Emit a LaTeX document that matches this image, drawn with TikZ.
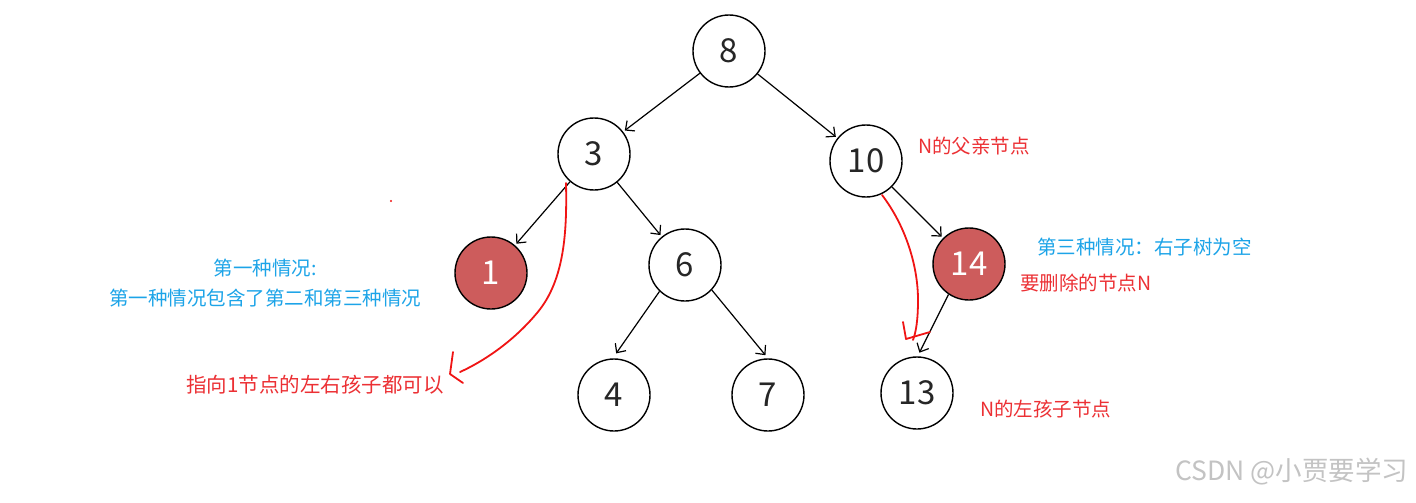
\documentclass[tikz,border=0pt]{standalone}
\usepackage{fontspec}
\setmainfont{Noto Sans CJK SC}
\newfontfamily\cjk{Noto Sans CJK SC}
\usetikzlibrary{arrows.meta}
\definecolor{nodered}{RGB}{205,92,92}
\definecolor{txtred}{RGB}{236,48,52}
\definecolor{txtblue}{RGB}{28,164,232}
\definecolor{penred}{RGB}{240,20,20}
\definecolor{wm}{RGB}{195,195,195}
\tikzset{
  tnode/.style={circle,draw=black,line width=1.4pt,minimum size=72pt,inner sep=0pt,font=\cjk\fontsize{33}{33}\selectfont,text=black!85},
  delnode/.style={tnode,fill=nodered,text=white},
  arr/.style={line width=1.2pt,-{Straight Barb[length=7pt,width=13pt,line width=1.2pt]},shorten >=2pt},
  pen/.style={draw=penred,line width=1.8pt,line cap=round,line join=round},
  rnote/.style={text=txtred,font=\cjk\fontsize{19.5}{22}\selectfont,inner sep=0pt,anchor=west},
  bnote/.style={text=txtblue,font=\cjk\fontsize{19.5}{22}\selectfont,inner sep=0pt}
}
\begin{document}
\begin{tikzpicture}[x=1pt,y=-1pt]
\useasboundingbox[fill=white] (0,0) rectangle (1416,503);
% nodes
\node[tnode] (n8) at (729,51) {8};
\node[tnode] (n3) at (594,154) {3};
\node[tnode] (n10) at (866,161) {10};
\node[delnode] (n1) at (491,273) {1};
\node[tnode] (n6) at (685,265) {6};
\node[delnode] (n14) at (969,264) {14};
\node[tnode] (n4) at (614,395) {4};
\node[tnode] (n7) at (768,395) {7};
\node[tnode] (n13) at (917,393) {13};
% tree arrows
\draw[arr] (n8) -- (n3);
\draw[arr] (n8) -- (n10);
\draw[arr] (n3) -- (n1);
\draw[arr] (n3) -- (n6);
\draw[arr] (n10) -- (n14);
\draw[arr,shorten >=6pt] (n6.226) -- (n4.92);
\draw[arr,shorten >=4pt] (n6.-43) -- (n7.90);
\draw[arr,shorten >=4pt] (n14.-124) -- (n13.89);
% red hand-drawn arrows
\coordinate (r1s) at (566,183);
\coordinate (r1e) at (460,372);
\draw[pen] (r1s) .. controls (567,230) and (565,280) .. (537,313) .. controls (512,343) and (482,362) .. (r1e);
\draw[pen] (453,352) -- (450,374) -- (463,383);
\coordinate (r2s) at (882,195);
\coordinate (r2e) at (913,340);
\draw[pen] (r2s) .. controls (905,225) and (918,265) .. (918,300) .. controls (918,320) and (916,332) .. (r2e);
\draw[pen] (903,322) -- (906,339) -- (930,332);
\fill[penred] (391,201) circle (1.2pt);
% texts
\node[bnote] (t1) at (265,268) {第一种情况:};
\node[bnote] (t2) at (265,298) {第一种情况包含了第二和第三种情况};
\node[rnote,font=\cjk\fontsize{20.5}{22}\selectfont] (t3) at (186,385) {指向1节点的左右孩子都可以};
\node[rnote] (t4) at (918,146) {N的父亲节点};
\node[bnote,anchor=west] (t5) at (1037,247) {第三种情况：右子树为空};
\node[rnote] (t6) at (1020,283) {要删除的节点N};
\node[rnote] (t7) at (980,409) {N的左孩子节点};
\node[anchor=west,inner sep=0pt,text=wm,font=\cjk\fontsize{26.5}{28}\selectfont] (wm) at (1175,472) {CSDN @小贾要学习};
\end{tikzpicture}
\end{document}
